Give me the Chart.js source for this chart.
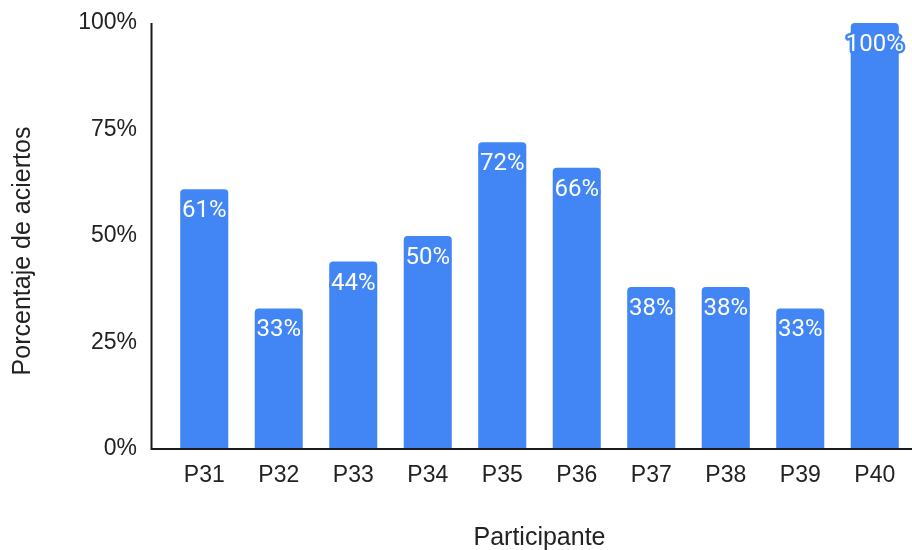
<!DOCTYPE html>
<html>
<head>
<meta charset="utf-8">
<script src="https://cdn.jsdelivr.net/npm/chart.js@4/dist/chart.umd.min.js"></script>
<style>
  html, body { margin: 0; padding: 0; background: #fff; }
  #wrap { width: 912px; height: 550px; }
</style>
</head>
<body>
<div id="wrap"><canvas id="aciertosChart" width="912" height="550"></canvas></div>
<script>
const participantes = ['P31', 'P32', 'P33', 'P34', 'P35', 'P36', 'P37', 'P38', 'P39', 'P40'];
const aciertos = [61, 33, 44, 50, 72, 66, 38, 38, 33, 100];
const yTicks = [0, 25, 50, 75, 100];

const barColor = '#4285F4';
const textColor = '#222222';
const sansFont = 'Arial, "Liberation Sans", sans-serif';

// axis lines sit a little left of the first category
const axisLines = {
    id: 'axisLines',
    afterDatasetsDraw(chart) {
        const { ctx, chartArea } = chart;
        const x0 = 151.5;
        ctx.save();
        ctx.strokeStyle = '#1a1a1a';
        ctx.lineWidth = 2;
        ctx.beginPath();
        ctx.moveTo(x0, chartArea.top);
        ctx.lineTo(x0, chartArea.bottom + 1);
        ctx.moveTo(x0 - 1, chartArea.bottom);
        ctx.lineTo(chartArea.right, chartArea.bottom);
        ctx.stroke();
        ctx.restore();
    }
};

// white value labels with a blue outline, just under the top of each bar
const barLabels = {
    id: 'barLabels',
    afterDraw(chart) {
        const { ctx } = chart;
        const meta = chart.getDatasetMeta(0);
        ctx.save();
        ctx.font = '24px Roboto, Arial, sans-serif';
        ctx.textAlign = 'center';
        ctx.textBaseline = 'middle';
        ctx.lineJoin = 'round';
        meta.data.forEach((bar, i) => {
            const label = aciertos[i] + '%';
            const y = bar.y + 22;
            ctx.lineWidth = 5;
            ctx.strokeStyle = barColor;
            ctx.strokeText(label, bar.x, y);
            ctx.fillStyle = '#ffffff';
            ctx.fillText(label, bar.x, y);
        });
        ctx.restore();
    }
};

// axis titles
const axisTitles = {
    id: 'axisTitles',
    afterDraw(chart) {
        const { ctx, chartArea } = chart;
        ctx.save();
        ctx.font = '25px ' + sansFont;
        ctx.fillStyle = textColor;
        ctx.textAlign = 'center';
        ctx.textBaseline = 'middle';
        ctx.fillText('Participante', (chartArea.left + chartArea.right) / 2, 538);
        ctx.translate(23, 251);
        ctx.rotate(-Math.PI / 2);
        ctx.fillText('Porcentaje de aciertos', 0, 0);
        ctx.restore();
    }
};

const ctx = document.getElementById('aciertosChart').getContext('2d');
new Chart(ctx, {
    type: 'bar',
    data: {
        labels: participantes,
        datasets: [{
            data: aciertos,
            backgroundColor: barColor,
            borderRadius: { topLeft: 4, topRight: 4 },
            borderSkipped: 'start',
            categoryPercentage: 1,
            barPercentage: 0.645
        }]
    },
    options: {
        responsive: false,
        animation: false,
        layout: { padding: { top: 23, right: 0, left: 0, bottom: 0 } },
        plugins: {
            legend: { display: false },
            tooltip: { enabled: false }
        },
        scales: {
            x: {
                grid: { display: false },
                border: { display: false },
                ticks: {
                    color: textColor,
                    font: { family: sansFont, size: 23 },
                    padding: 5
                },
                afterFit(scale) {
                    scale.height = 101;
                    scale.paddingLeft = 0;
                    scale.paddingRight = 0;
                }
            },
            y: {
                min: 0,
                max: 100,
                grid: { display: false },
                border: { display: false },
                afterBuildTicks(scale) {
                    scale.ticks = yTicks.map(v => ({ value: v }));
                },
                ticks: {
                    color: textColor,
                    font: { family: sansFont, size: 23 },
                    padding: 22,
                    callback: v => v + '%'
                },
                afterFit(scale) {
                    scale.width = 167;
                    scale.paddingTop = 0;
                    scale.paddingBottom = 0;
                }
            }
        }
    },
    plugins: [axisLines, barLabels, axisTitles]
});
</script>
</body>
</html>
